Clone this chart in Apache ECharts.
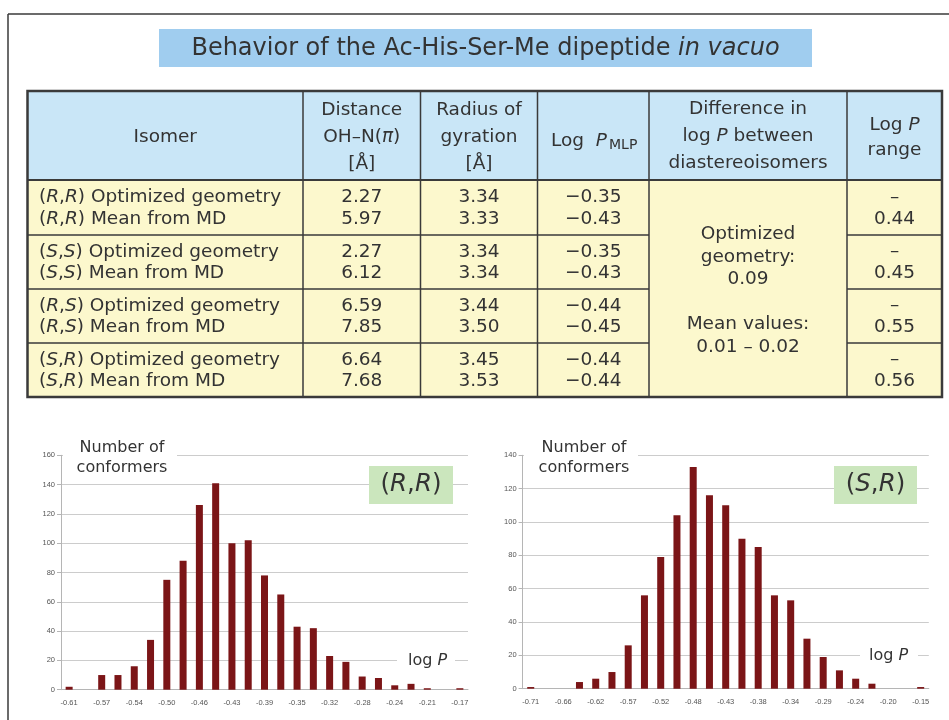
<!DOCTYPE html>
<html><head><meta charset="utf-8">
<script src="https://cdn.jsdelivr.net/npm/echarts@6/dist/echarts.min.js"></script>
<style>html,body{margin:0;padding:0;background:#fff}#c{width:949px;height:720px}</style>
</head><body><div id="c"></div>
<script>
// ---------- DATA ----------
const titleMain = 'Behavior of the Ac-His-Ser-Me dipeptide ';
const titleItalic = 'in vacuo';

const isomerPairs = [['R','R'],['S','S'],['R','S'],['S','R']];
const isomerKinds = ['Optimized geometry','Mean from MD'];
const distanceVals = ['2.27','5.97','2.27','6.12','6.59','7.85','6.64','7.68'];
const gyrationVals = ['3.34','3.33','3.34','3.34','3.44','3.50','3.45','3.53'];
const logPmlpVals = ['\u22120.35','\u22120.43','\u22120.35','\u22120.43','\u22120.44','\u22120.45','\u22120.44','\u22120.44'];
const logPRangeVals = ['0.44','0.45','0.55','0.56'];
const diffLines = ['Optimized','geometry:','0.09','','Mean values:','0.01 \u2013 0.02'];

const rrCategories = ['-0.61','-0.59','-0.57','-0.56','-0.54','-0.52','-0.50','-0.48','-0.46','-0.45','-0.43','-0.41','-0.39','-0.37','-0.35','-0.34','-0.32','-0.30','-0.28','-0.26','-0.24','-0.23','-0.21','-0.19','-0.17'];
const rrCounts = [2,0,10,10,16,34,75,88,126,141,100,102,78,65,43,42,23,19,9,8,3,4,1,0,1];
const srCategories = ['-0.71','-0.69','-0.66','-0.64','-0.62','-0.59','-0.57','-0.55','-0.52','-0.50','-0.48','-0.45','-0.43','-0.41','-0.38','-0.36','-0.34','-0.31','-0.29','-0.27','-0.24','-0.22','-0.20','-0.17','-0.15'];
const srCounts = [1,0,0,4,6,10,26,56,79,104,133,116,110,90,85,56,53,30,19,11,6,3,0,0,1];
const rrYMax = 160, srYMax = 140, yStep = 20;

// ---------- LAYOUT / STYLE ----------
const FONT = 'DejaVu Sans';
const TXT = '#333';
const FS = 18.5;
const colX = [27.5, 303, 420.5, 537.5, 649, 847, 942];
const headTop = 91, headBot = 180;
const rowY = [180, 235, 289, 343, 397];
const HEAD_BG = '#c9e6f7', BODY_BG = '#fcf8cd', LINE = '#3a3a3a';
function mkRich(size, lh) {
  return {
    n: {fontFamily: FONT, fontSize: size, fill: TXT, lineHeight: lh},
    i: {fontFamily: FONT, fontSize: size, fill: TXT, lineHeight: lh, fontStyle: 'italic'}
  };
}
const richH = mkRich(FS, 27);
const richB = mkRich(FS, 22);

const g = [];
function txt(x, y, text, opt) {
  opt = opt || {};
  g.push({type: 'text', x: x, y: y, z: 20, style: {
    text: text, fill: TXT, font: (opt.size || FS) + 'px "' + FONT + '"',
    textAlign: opt.align || 'center', textVerticalAlign: 'middle', lineHeight: opt.lh || 22,
    rich: opt.rich
  }});
}
function rect(x, y, w, h, fill, z) {
  g.push({type: 'rect', z: z || 10, shape: {x: x, y: y, width: w, height: h}, style: {fill: fill}});
}
function line(x1, y1, x2, y2, w, z) {
  g.push({type: 'line', z: z || 15, shape: {x1: x1, y1: y1, x2: x2, y2: y2}, style: {stroke: LINE, lineWidth: w || 1.5}});
}

// frame
line(8, 14, 949, 14, 1.5);
line(8, 14, 8, 720, 1.5);
// title
rect(159, 29, 653, 38, '#a0cdef');
txt(485.5, 48.5, '{n|' + titleMain + '}{i|' + titleItalic + '}', {rich: mkRich(24, 28)});

// table backgrounds
rect(colX[0], headTop, colX[6] - colX[0], headBot - headTop, HEAD_BG);
rect(colX[0], headBot, colX[6] - colX[0], rowY[4] - headBot, BODY_BG);
// grid lines
for (let k = 1; k < colX.length - 1; k++) line(colX[k], headTop, colX[k], rowY[4], 1.5);
line(colX[0], headBot, colX[6], headBot, 2);
for (let r = 1; r < 4; r++) {
  line(colX[0], rowY[r], colX[4], rowY[r], 1.5);
  line(colX[5], rowY[r], colX[6], rowY[r], 1.5);
}
g.push({type: 'rect', z: 16, shape: {x: colX[0], y: headTop, width: colX[6] - colX[0], height: rowY[4] - headTop},
  style: {fill: 'none', stroke: LINE, lineWidth: 2.5}});

// header
const cx = k => (colX[k] + colX[k + 1]) / 2;
txt(cx(0), 137, 'Isomer');
txt(cx(1), 137, '{n|Distance}\n{n|OH\u2013N(}{i|\u03c0}{n|)}\n{n|[\u00c5]}', {rich: richH, lh: 27});
txt(cx(2), 137, '{n|Radius of}\n{n|gyration}\n{n|[\u00c5]}', {rich: richH, lh: 27});
txt(607, 141, '{n|Log  }{i|P}', {rich: richB, align: 'right'});
txt(609, 145.5, 'MLP', {size: 14, align: 'left'});
txt(cx(4), 136.5, '{n|Difference in}\n{n|log }{i|P}{n| between}\n{n|diastereoisomers}', {rich: richH, lh: 27});
txt(cx(5), 137.5, '{n|Log }{i|P}\n{n|range}', {rich: mkRich(FS, 25), lh: 25});

// body
for (let r = 0; r < 4; r++) {
  const mid = (rowY[r] + rowY[r + 1]) / 2;
  for (let s = 0; s < 2; s++) {
    const idx = r * 2 + s;
    const y = mid + (s === 0 ? -10 : 11.5);
    const p = isomerPairs[r];
    txt(39, y, '{n|(}{i|' + p[0] + '}{n|,}{i|' + p[1] + '}{n|) ' + isomerKinds[s] + '}', {rich: richB, align: 'left'});
    txt(cx(1), y, distanceVals[idx]);
    txt(cx(2), y, gyrationVals[idx]);
    txt(cx(3), y, logPmlpVals[idx]);
  }
  txt(cx(5), mid - 10.5, '\u2013');
  txt(cx(5), mid + 11.5, logPRangeVals[r]);
}
txt(cx(4), 290.5, diffLines.join('\n'), {lh: 22.5});

// histogram overlays
function overlay(nx, gapL, gapR, lpx, lpy, gapL2, gapR2, bx, bw, lab) {
  rect(gapL, 442, gapR - gapL, 32, '#fff', 20);
  txt(nx, 458, 'Number of\nconformers', {size: 16, lh: 20});
  rect(gapL2, lpy - 9, gapR2 - gapL2, 18, '#fff', 20);
  txt(lpx, lpy, '{n|log }{i|P}', {rich: mkRich(16, 20)});
  rect(bx, 466, bw, 38, '#cbe6bd', 20);
  txt(bx + bw / 2, 485, '{n|(}{i|' + lab[0] + '}{n|,}{i|' + lab[1] + '}{n|)}', {rich: mkRich(24.5, 30)});
}
overlay(122, 63, 177, 427.5, 660.5, 397, 455, 369, 84, ['R','R']);
overlay(584, 524, 638, 888.5, 655.4, 860, 918, 834, 83, ['S','R']);

const BAR = '#7b1517';
function xAx(gi, cats) {
  return {gridIndex: gi, type: 'category', data: cats,
    axisLine: {lineStyle: {color: '#b5b5b5'}}, axisTick: {show: false},
    axisLabel: {interval: 1, fontSize: 7.5, color: '#555', margin: 9, fontFamily: 'Liberation Sans'}};
}
function yAx(gi, max) {
  return {gridIndex: gi, type: 'value', min: 0, max: max, interval: yStep,
    axisLine: {show: true, lineStyle: {color: '#b5b5b5'}},
    axisTick: {show: true, length: 4, lineStyle: {color: '#b5b5b5'}},
    axisLabel: {fontSize: 7.5, color: '#555', margin: 6, fontFamily: 'Liberation Sans'},
    splitLine: {lineStyle: {color: '#cccccc'}}};
}

const chart = echarts.init(document.getElementById('c'), null, {renderer: 'canvas'});
chart.setOption({
  animation: false,
  backgroundColor: '#fff',
  grid: [
    {left: 61, top: 455.3, width: 407, height: 234.4},
    {left: 522.6, top: 455.3, width: 406.2, height: 233.4}
  ],
  xAxis: [xAx(0, rrCategories), xAx(1, srCategories)],
  yAxis: [yAx(0, rrYMax), yAx(1, srYMax)],
  series: [
    {type: 'bar', xAxisIndex: 0, yAxisIndex: 0, data: rrCounts, barWidth: 7, itemStyle: {color: BAR}},
    {type: 'bar', xAxisIndex: 1, yAxisIndex: 1, data: srCounts, barWidth: 7, itemStyle: {color: BAR}}
  ],
  graphic: {elements: g}
});
</script></body></html>
